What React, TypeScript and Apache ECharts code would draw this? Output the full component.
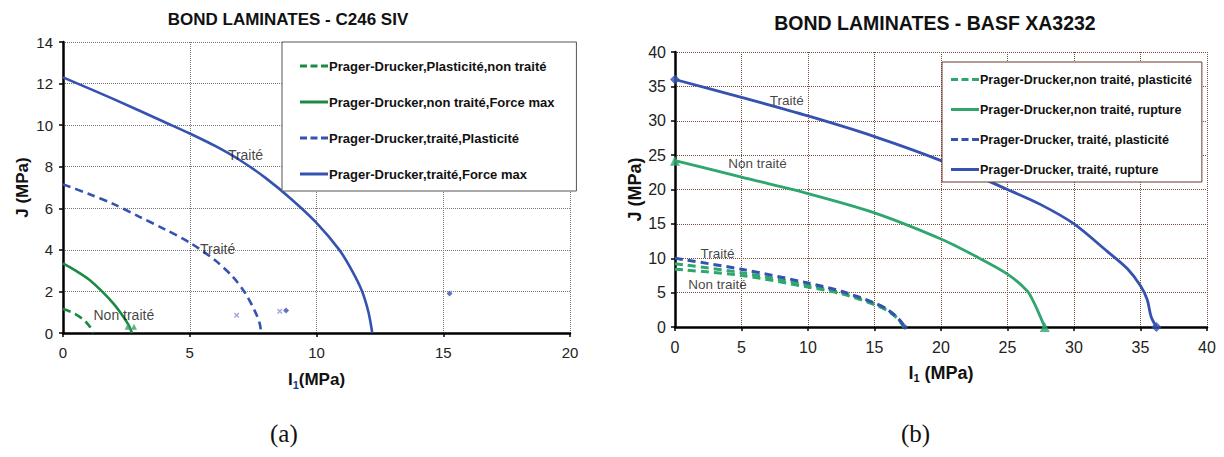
import React, { useEffect, useRef } from "react";
import * as echarts from "echarts";

// ---------- (a) BOND LAMINATES - C246 SIV ----------
const aTitle = "BOND LAMINATES - C246 SIV";
const aNames = [
  "Prager-Drucker,Plasticité,non traité",
  "Prager-Drucker,non traité,Force max",
  "Prager-Drucker,traité,Plasticité",
  "Prager-Drucker,traité,Force max",
];
const aDashed = [true, false, true, false];
const aPlastNonTraite = [[0, 1.15], [0.4, 0.97], [0.8, 0.65], [1.05, 0.32], [1.2, 0]];
const aForceNonTraite = [[0, 3.35], [0.5, 3.0], [1, 2.6], [1.5, 2.05], [2, 1.4], [2.4, 0.75], [2.6, 0.35], [2.72, 0]];
const aPlastTraite = [[0, 7.15], [1, 6.7], [2, 6.2], [3, 5.6], [4, 5.0], [5, 4.35], [6, 3.5], [6.7, 2.7], [7.2, 1.9], [7.55, 1.1], [7.75, 0.5], [7.82, 0]];
const aForceTraite = [[0, 12.3], [2, 11.25], [4, 10.15], [5, 9.6], [6, 9.0], [7, 8.3], [8, 7.45], [9, 6.45], [10, 5.3], [10.9, 4.0], [11.4, 3.0], [11.8, 2.0], [12.05, 1.0], [12.2, 0]];
const aTriangles = [[2.55, 0.3], [2.8, 0.3]];
const aCrosses = [[6.85, 0.85], [8.55, 1.05]];
const aDiamonds = [[8.8, 1.08], [15.25, 1.9]];
const aNotes = [
  { text: "Traité", at: [7.2, 8.55] },
  { text: "Traité", at: [6.1, 4.05] },
  { text: "Non traité", at: [2.4, 0.87] },
];

// ---------- (b) BOND LAMINATES - BASF XA3232 ----------
const bTitle = "BOND LAMINATES - BASF XA3232";
const bNames = [
  "Prager-Drucker,non traité, plasticité",
  "Prager-Drucker,non traité, rupture",
  "Prager-Drucker, traité, plasticité",
  "Prager-Drucker, traité, rupture",
];
const bDashed = [true, false, true, false];
const bPlastNonTraite = [[0, 9.2], [5, 7.9], [10, 6.1], [12.5, 5.0], [15, 3.4], [16, 2.5], [16.8, 1.2], [17.2, 0]];
const bPlastNonTraite2 = [[0, 8.4], [5, 7.5], [10, 5.8], [12.5, 4.85], [15, 3.25], [16, 2.35], [16.8, 1.1], [17.2, 0]];
const bRuptNonTraite = [[0, 24.2], [5, 21.8], [10, 19.4], [15, 16.6], [20, 12.8], [22.5, 10.4], [25, 7.7], [26.5, 5.2], [27, 3.5], [27.4, 1.8], [27.8, 0]];
const bPlastTraite = [[0, 10], [5, 8.4], [10, 6.4], [12.5, 5.2], [15, 3.5], [16, 2.5], [16.8, 1.2], [17.3, 0]];
const bRuptTraite = [[0, 36], [5, 33.4], [10, 30.7], [15, 27.7], [20, 24.2], [25, 20], [27.5, 17.8], [30, 15], [32.5, 11], [34, 8.5], [35, 6], [35.5, 4], [35.8, 1.5], [36.2, 0]];
const bTriangles = [[0, 24.2], [27.8, 0]];
const bDiamonds = [[0, 36], [36.2, 0]];
const bSmallDiamonds = [[17.3, 0]];
const bNotes = [
  { text: "Traité", at: [8.4, 32.9] },
  { text: "Non traité", at: [6.2, 23.85] },
  { text: "Traité", at: [3.2, 10.75] },
  { text: "Non traité", at: [3.2, 6.25] },
];

const aGreen = "#1c8a45";
const bGreen = "#2ea66e";
const blue = "#3552b0";
const sans = "Liberation Sans, Arial, sans-serif";
const narrow = "Liberation Sans Narrow, Arial Narrow, Liberation Sans, sans-serif";

const crossPath = "path://M0,0L2,0L10,8L10,10L8,10L0,2Z M8,0L10,0L10,2L2,10L0,10L0,8Z";
const solidIcon = "path://M0,0h28v3h-28z";
const dashIcon = "path://M0,0h7v3h-7zM10.5,0h7v3h-7zM21,0h7v3h-7z";

export default function App() {
  const ref = useRef<HTMLDivElement>(null);
  useEffect(() => {
    if (!ref.current) return;
    const chart = echarts.init(ref.current, null, { renderer: "svg" });

    const line = (name: string, data: number[][], color: string, dashed: boolean, xi: number, w = 2.6) => ({
      name,
      type: "line",
      xAxisIndex: xi,
      yAxisIndex: xi,
      data,
      symbol: "none",
      smooth: 0.3,
      lineStyle: { color, width: w, type: dashed ? [8, 5] : "solid" },
      itemStyle: { color },
      z: 3,
    });
    const marks = (data: number[][], symbol: string, size: number, color: string, xi: number) => ({
      type: "scatter",
      xAxisIndex: xi,
      yAxisIndex: xi,
      data,
      symbol,
      symbolSize: size,
      itemStyle: { color },
      z: 4,
      silent: true,
    });
    const notes = (list: { text: string; at: number[] }[], xi: number, fs: number) => ({
      type: "scatter",
      xAxisIndex: xi,
      yAxisIndex: xi,
      symbolSize: 0,
      silent: true,
      data: list.map((n) => ({ value: n.at, name: n.text })),
      label: {
        show: true,
        position: "inside",
        formatter: (p: any) => p.name,
        color: "#111",
        fontSize: fs,
        fontFamily: sans,
      },
      z: 5,
    });

    const axisCommon = (gridColor: string, fs: number, margin: number) => ({
      axisLine: { show: true, onZero: false, lineStyle: { color: "#000", width: 2.5 } },
      axisTick: { show: true, inside: false, length: 4, lineStyle: { color: "#000", width: 1.5 } },
      axisLabel: { color: "#222", fontSize: fs, fontFamily: sans, margin },
      splitLine: { show: true, lineStyle: { color: gridColor, type: [1, 1], width: 1 } },
    });

    const legendData = (names: string[], dashed: boolean[]) =>
      names.map((n, i) => ({ name: n, icon: dashed[i] ? dashIcon : solidIcon }));

    const option: any = {
      animation: false,
      backgroundColor: "#fff",
      title: [
        {
          text: aTitle,
          left: 283,
          top: 6,
          textAlign: "center",
          textStyle: { fontFamily: narrow, fontWeight: "bold", fontSize: 17, color: "#111" },
        },
        {
          text: bTitle,
          left: 930,
          top: 8,
          textAlign: "center",
          textStyle: { fontFamily: narrow, fontWeight: "bold", fontSize: 19.5, color: "#111" },
        },
      ],
      legend: [
        {
          data: legendData(aNames, aDashed),
          orient: "vertical",
          left: 282,
          top: 42,
          itemWidth: 28,
          itemHeight: 3,
          itemGap: 20,
          padding: [16, 22, 9, 18],
          backgroundColor: "#fff",
          borderColor: "#555",
          borderWidth: 1,
          textStyle: { fontFamily: sans, fontWeight: "bold", fontSize: 13, lineHeight: 16, color: "#111", padding: [0, 0, 0, -4] },
        },
        {
          data: legendData(bNames, bDashed),
          orient: "vertical",
          left: 942,
          top: 62,
          itemWidth: 28,
          itemHeight: 3,
          itemGap: 15,
          padding: [10, 10, 5, 9],
          backgroundColor: "#fff",
          borderColor: "#6b3a2a",
          borderWidth: 1,
          textStyle: { fontFamily: sans, fontWeight: "bold", fontSize: 12.5, lineHeight: 15, color: "#111", padding: [0, 0, 0, -4] },
        },
      ],
      grid: [
        { left: 63, right: 654, top: 42, bottom: 124 },
        { left: 675, right: 17, top: 52, bottom: 130 },
      ],
      xAxis: [
        {
          gridIndex: 0,
          type: "value",
          min: 0,
          max: 20,
          interval: 5,
          ...axisCommon("#777", 15, 12),
          name: "I{s|1}(MPa)",
          nameLocation: "middle",
          nameGap: 36,
          nameTextStyle: {
            fontFamily: sans,
            fontWeight: "bold",
            fontSize: 17,
            color: "#111",
            rich: { s: { fontFamily: sans, fontWeight: "bold", fontSize: 11, color: "#1a3a8a", padding: [10, 0, 0, 0] } },
          },
        },
        {
          gridIndex: 1,
          type: "value",
          min: 0,
          max: 40,
          interval: 5,
          ...axisCommon("#7a4a3a", 16, 12),
          name: "I{s|1} (MPa)",
          nameLocation: "middle",
          nameGap: 35,
          nameTextStyle: {
            fontFamily: sans,
            fontWeight: "bold",
            fontSize: 18,
            color: "#111",
            rich: { s: { fontFamily: sans, fontWeight: "bold", fontSize: 11, color: "#111", padding: [10, 0, 0, 0] } },
          },
        },
      ],
      yAxis: [
        {
          gridIndex: 0,
          type: "value",
          min: 0,
          max: 14,
          interval: 2,
          ...axisCommon("#777", 15, 10),
          name: "J (MPa)",
          nameLocation: "middle",
          nameGap: 32,
          nameTextStyle: { fontFamily: sans, fontWeight: "bold", fontSize: 17, color: "#111" },
        },
        {
          gridIndex: 1,
          type: "value",
          min: 0,
          max: 40,
          interval: 5,
          ...axisCommon("#7a4a3a", 16, 9),
          name: "J (MPa)",
          nameLocation: "middle",
          nameGap: 29,
          nameTextStyle: { fontFamily: sans, fontWeight: "bold", fontSize: 18, color: "#111" },
        },
      ],
      series: [
        line(aNames[0], aPlastNonTraite, aGreen, true, 0),
        line(aNames[1], aForceNonTraite, aGreen, false, 0),
        line(aNames[2], aPlastTraite, blue, true, 0),
        line(aNames[3], aForceTraite, blue, false, 0),
        marks(aTriangles, "triangle", 6, "#3aa064", 0),
        marks(aCrosses, crossPath, 5, "#8c8cd6", 0),
        marks(aDiamonds, "diamond", 6, blue, 0),
        notes(aNotes, 0, 14),
        line(bNames[0], bPlastNonTraite, bGreen, true, 1, 3),
        line("bPlastNonTraite2", bPlastNonTraite2, bGreen, true, 1, 3),
        line(bNames[1], bRuptNonTraite, bGreen, false, 1, 2.8),
        line(bNames[2], bPlastTraite, blue, true, 1, 3),
        line(bNames[3], bRuptTraite, blue, false, 1, 2.8),
        marks(bTriangles, "triangle", 10, bGreen, 1),
        marks(bDiamonds, "diamond", 10, blue, 1),
        marks(bSmallDiamonds, "diamond", 6, blue, 1),
        notes(bNotes, 1, 13.5),
      ],
      graphic: [
        {
          type: "text",
          left: 270,
          top: 421,
          style: { text: "(a)", fontFamily: "Liberation Serif, serif", fontSize: 25, fill: "#111" },
        },
        {
          type: "text",
          left: 901,
          top: 421,
          style: { text: "(b)", fontFamily: "Liberation Serif, serif", fontSize: 25, fill: "#111" },
        },
      ],
    };
    chart.setOption(option);
    return () => chart.dispose();
  }, []);
  return (
    <div
      ref={ref}
      style={{ position: "fixed", left: 0, top: 0, width: 1224, height: 457, background: "#fff" }}
    />
  );
}
